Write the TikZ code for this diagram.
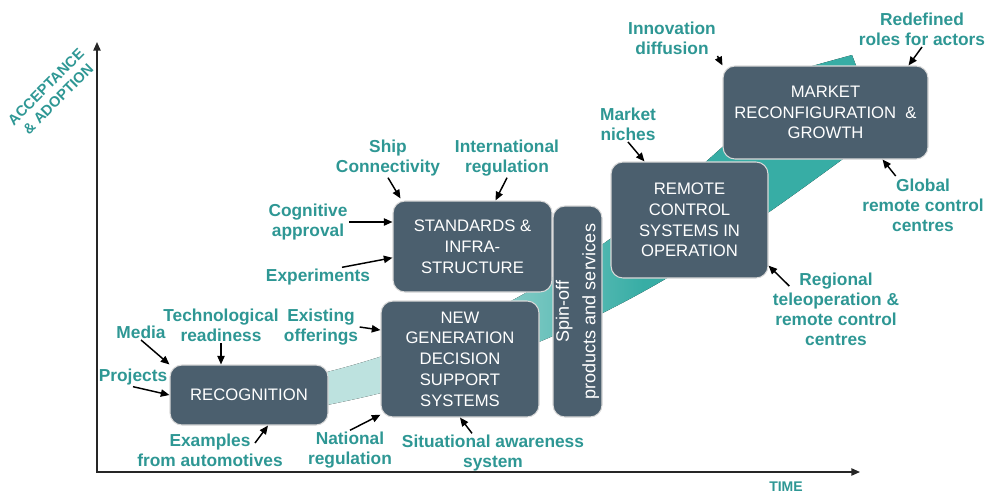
\documentclass[tikz,border=0pt]{standalone}
\usepackage{fontspec}
\setmainfont{Liberation Sans}
\usetikzlibrary{arrows.meta}
\usetikzlibrary{positioning}
\definecolor{boxgray}{HTML}{4B5F6E}
\definecolor{tealtext}{HTML}{2E9794}
\definecolor{bandlight}{HTML}{BDE2DF}
\definecolor{banddark}{HTML}{37ADA5}
\pgfdeclarehorizontalshading{ribbon}{100bp}{color(0bp)=(bandlight); color(33bp)=(bandlight); color(45bp)=(bandlight!45!banddark); color(55bp)=(banddark); color(100bp)=(banddark)}

\begin{document}
\begin{tikzpicture} [x=0.75pt, y=-0.75pt, >={Triangle[length=6.5pt,width=5.5pt]},
        box/.style = {draw=gray!30, line width=0.8pt, fill=boxgray, rounded corners=9pt, text=white, align=center, inner sep=0pt, font=\fontsize{12.5}{15.6}\selectfont},
        lbl/.style = {text=tealtext, align=center, inner sep=1pt, font=\bfseries\fontsize{13}{15}\selectfont},
        arr/.style = {->, line width=1.1pt, black}]
        \useasboundingbox (0,0) rectangle (986,493);

        %Band
        \fill[shading=ribbon] (322,373) -- (327,372) .. controls (577,309.5) and (712,151) .. (812,66) -- (852,55) -- (857,68) -- (858,148) .. controls (708,257.5) and (577,355) .. (327,405) -- (322,406) -- cycle;

        %Achsen
        \coordinate (origin) at (97,472);
        \coordinate (ytop) at (97,42);
        \coordinate (xend) at (860,472);
        \draw[<->, line width=1.1pt, black!85] (ytop) -- (origin) -- (xend);

        \node[lbl, rotate=45, font=\bfseries\fontsize{11}{13}\selectfont] (yname) at (52,93) {ACCEPTANCE\\\& ADOPTION};
        \node[lbl, font=\bfseries\fontsize{10.5}{12}\selectfont] (xname) at (786,487) {TIME};

        %Boxen
        \node[box, minimum width=118.5pt, minimum height=45pt] (recog) at (249,395) {RECOGNITION};
        \node[box, minimum width=118.5pt, minimum height=87pt] (newgen) at (460,359) {NEW\\GENERATION\\DECISION\\SUPPORT\\SYSTEMS};
        \node[box, minimum width=119.25pt, minimum height=68.25pt] (standards) at (472.5,246.5) {STANDARDS \&\\INFRA-\\STRUCTURE};
        \node[box, rotate=90, minimum width=158.25pt, minimum height=36.75pt, font=\fontsize{13.5}{20}\selectfont] (spinoff) at (577.5,311.5) {Spin-off\\products and services};
        \node[box, minimum width=117.75pt, minimum height=87pt] (remote) at (689.5,220) {REMOTE\\CONTROL\\SYSTEMS IN\\OPERATION};
        \node[box, minimum width=153.75pt, minimum height=69.75pt] (market) at (825.5,112.5) {MARKET\\RECONFIGURATION\ \ \&\\GROWTH};

        %Labels
        \node[lbl] (media) at (141,332) {Media};
        \node[lbl] (techread) at (221,325) {Technological\\readiness};
        \node[lbl] (projects) at (133,377) {Projects};
        \node[lbl] (examples) at (210,450) {Examples\\from automotives};
        \node[lbl] (national) at (350,450) {National\\regulation};
        \node[lbl] (situational) at (493,453) {Situational awareness\\system};
        \node[lbl] (existing) at (321,327) {Existing\\offerings};
        \node[lbl] (cognitive) at (308,222) {Cognitive\\approval};
        \node[lbl] (experiments) at (318,277) {Experiments};
        \node[lbl] (ship) at (388,158) {Ship\\Connectivity};
        \node[lbl] (intreg) at (507,158) {International\\regulation};
        \node[lbl] (niches) at (628,124) {Market\\niches};
        \node[lbl] (innovation) at (672,38) {Innovation\\diffusion};
        \node[lbl] (roles) at (922,29) {Redefined\\roles for actors};
        \node[lbl] (global) at (923,205) {Global\\remote control\\centres};
        \node[lbl] (regional) at (836,309) {Regional\\teleoperation \&\\remote control\\centres};

        %Pfeile
        \draw[arr] (media.south) -- (recog.north west);
        \draw[arr] (techread.south) -- (techread.south |- recog.north);
        \draw[arr] (projects.south) -- (recog.west);
        \draw[arr] ([shift={(45,11)}]examples.north) -- ([shift={(19,0)}]recog.south);

        \draw[arr] (national.north) -- (newgen.-145);
        \draw[arr] ([shift={(-21,0)}]situational.north) -- (newgen.south);
        \draw[arr] (existing.east) -- (newgen.160);

        \draw[arr] (cognitive.east) -- (cognitive.east -| standards.west);
        \draw[arr] ([shift={(24,0)}]experiments.north) -- (standards.188);
        \draw[arr] (ship.south) -- ([shift={(8,-2)}]standards.north west);
        \draw[arr] (intreg.south) -- ([shift={(23,0)}]standards.north);

        \draw[arr] (niches.south) -- ([shift={(34,0)}]remote.north west);
        \draw[arr] ([shift={(18,15)}]regional.north west) -- (remote.-30);

        \draw[arr] (innovation.south east) -- (market.north west);
        \draw[arr] (roles.south) -- ([shift={(-20,0)}]market.north east);
        \draw[arr] ([shift={(35,-1)}]global.north west) -- ([shift={(-46,0)}]market.south east);

    \end{tikzpicture}
\end{document}
